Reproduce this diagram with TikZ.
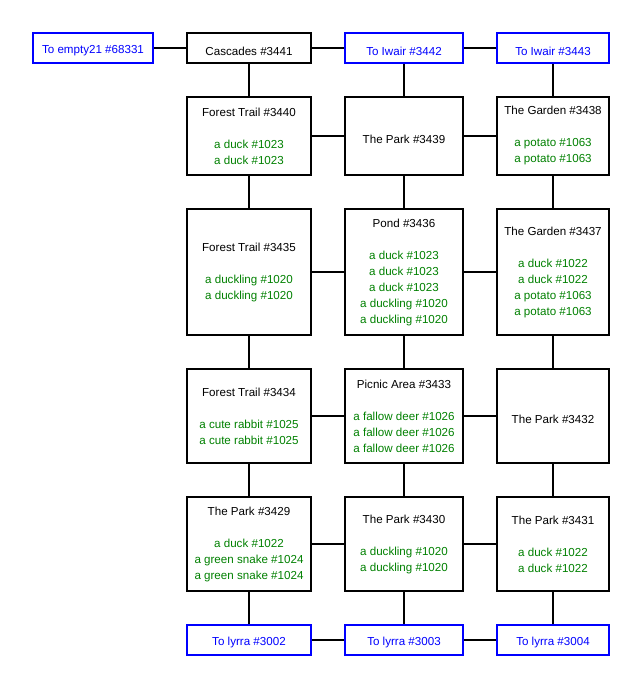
\documentclass[tikz,border=0pt]{standalone}
\usepackage{fontspec}
\setmainfont{Liberation Sans}
\definecolor{itemgreen}{RGB}{0,128,0}
\definecolor{exitblue}{RGB}{0,0,255}
\newcommand{\itm}[1]{\textcolor{itemgreen}{#1}}
\tikzset{
  room/.style={draw, line width=1.5pt, rectangle, align=center, inner sep=0pt,
    font=\fontsize{8.7}{12}\selectfont, execute at begin node={\rule{0pt}{10.6pt}}},
  stocked/.style={room, execute at begin node={\rule{0pt}{13.6pt}}},
  exit/.style={room, draw=exitblue, text=exitblue, minimum height=23pt},
}

\begin{document}
\begin{tikzpicture}[x=0.75pt, y=-0.75pt]
      \useasboundingbox (0,0) rectangle (642,688);
      % top row
      \node[exit, minimum width=90.5pt] (e0) at (93,48) {To empty21 \#68331};
      \node[room, minimum width=93.5pt, minimum height=23pt] (r3441) at (249,48) {Cascades \#3441};
      \node[exit, minimum width=89pt] (e3442) at (404,48) {To Iwair \#3442};
      \node[exit, minimum width=84.5pt] (e3443) at (553,48) {To Iwair \#3443};
      % second row
      \node[stocked, minimum width=93.5pt, minimum height=59pt] (r3440) at (249,136) {Forest Trail \#3440\\[12pt]\itm{a duck \#1023}\\\itm{a duck \#1023}};
      \node[room, minimum width=89pt, minimum height=59pt] (r3439) at (404,136) {The Park \#3439};
      \node[stocked, minimum width=84.5pt, minimum height=59pt] (r3438) at (553,136) {The Garden \#3438\\[12pt]\itm{a potato \#1063}\\\itm{a potato \#1063}};
      % third row
      \node[stocked, minimum width=93.5pt, minimum height=95pt] (r3435) at (249,272) {Forest Trail \#3435\\[12pt]\itm{a duckling \#1020}\\\itm{a duckling \#1020}};
      \node[stocked, minimum width=89pt, minimum height=95pt] (r3436) at (404,272) {Pond \#3436\\[12pt]\itm{a duck \#1023}\\\itm{a duck \#1023}\\\itm{a duck \#1023}\\\itm{a duckling \#1020}\\\itm{a duckling \#1020}};
      \node[stocked, minimum width=84.5pt, minimum height=95pt] (r3437) at (553,272) {The Garden \#3437\\[12pt]\itm{a duck \#1022}\\\itm{a duck \#1022}\\\itm{a potato \#1063}\\\itm{a potato \#1063}};
      % fourth row
      \node[stocked, minimum width=93.5pt, minimum height=71pt] (r3434) at (249,416) {Forest Trail \#3434\\[12pt]\itm{a cute rabbit \#1025}\\\itm{a cute rabbit \#1025}};
      \node[stocked, minimum width=89pt, minimum height=71pt] (r3433) at (404,416) {Picnic Area \#3433\\[12pt]\itm{a fallow deer \#1026}\\\itm{a fallow deer \#1026}\\\itm{a fallow deer \#1026}};
      \node[room, minimum width=84.5pt, minimum height=71pt] (r3432) at (553,416) {The Park \#3432};
      % fifth row
      \node[stocked, minimum width=93.5pt, minimum height=71pt] (r3429) at (249,544) {The Park \#3429\\[12pt]\itm{a duck \#1022}\\\itm{a green snake \#1024}\\\itm{a green snake \#1024}};
      \node[stocked, minimum width=89pt, minimum height=71pt] (r3430) at (404,544) {The Park \#3430\\[12pt]\itm{a duckling \#1020}\\\itm{a duckling \#1020}};
      \node[stocked, minimum width=84.5pt, minimum height=71pt] (r3431) at (553,544) {The Park \#3431\\[12pt]\itm{a duck \#1022}\\\itm{a duck \#1022}};
      % bottom row
      \node[exit, minimum width=93.5pt] (e3002) at (249,640) {To lyrra \#3002};
      \node[exit, minimum width=89pt] (e3003) at (404,640) {To lyrra \#3003};
      \node[exit, minimum width=84.5pt] (e3004) at (553,640) {To lyrra \#3004};
      % horizontal links
      \draw[line width=1.5pt] (e0) -- (r3441) -- (e3442) -- (e3443);
      \draw[line width=1.5pt] (r3440) -- (r3439) -- (r3438);
      \draw[line width=1.5pt] (r3435) -- (r3436) -- (r3437);
      \draw[line width=1.5pt] (r3434) -- (r3433) -- (r3432);
      \draw[line width=1.5pt] (r3429) -- (r3430) -- (r3431);
      \draw[line width=1.5pt] (e3002) -- (e3003) -- (e3004);
      % vertical links
      \draw[line width=1.5pt] (r3441) -- (r3440) -- (r3435) -- (r3434) -- (r3429) -- (e3002);
      \draw[line width=1.5pt] (e3442) -- (r3439) -- (r3436) -- (r3433) -- (r3430) -- (e3003);
      \draw[line width=1.5pt] (e3443) -- (r3438) -- (r3437) -- (r3432) -- (r3431) -- (e3004);
    \end{tikzpicture}
\end{document}
